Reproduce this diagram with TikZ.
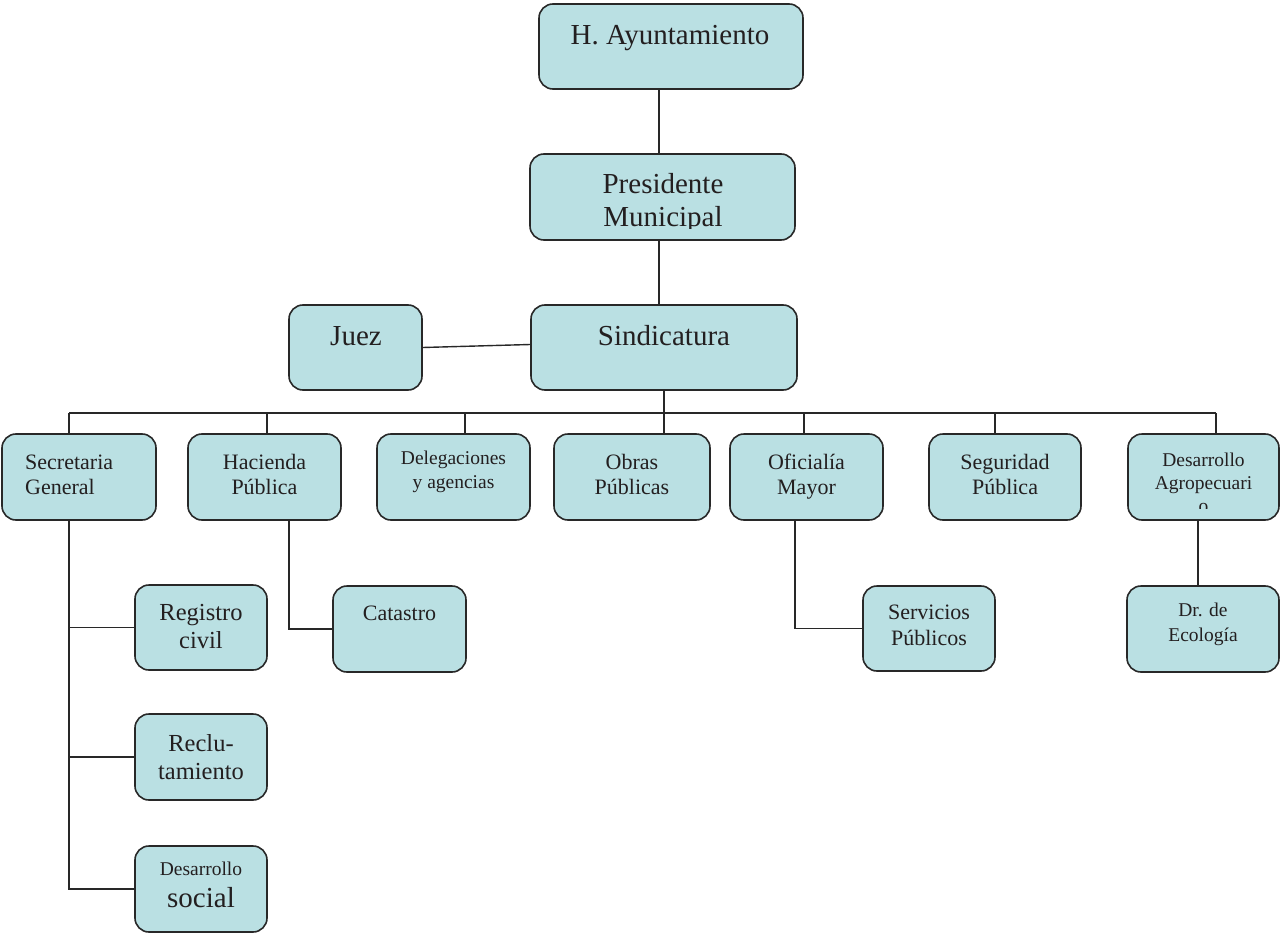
\documentclass[tikz,border=0pt]{standalone}
\usepackage{fontspec}
\setmainfont{Liberation Serif}
\definecolor{boxfill}{RGB}{186,224,227}
\definecolor{linec}{RGB}{40,40,40}
\definecolor{txtc}{RGB}{35,31,32}
\newcommand{\fsz}[1]{\fontsize{#1}{#1}\selectfont}
\begin{document}
\begin{tikzpicture}[x=1pt,y=-1pt,
  box/.style={draw=linec, line width=1.6pt, fill=boxfill, rounded corners=14pt, inner sep=0pt},
  ln/.style={inner sep=0pt, text=txtc, anchor=base},
  lnw/.style={inner sep=0pt, text=txtc, anchor=base west},
  big/.style={font=\fsz{29}},
  mid/.style={font=\fsz{22}},
  reg/.style={font=\fsz{24.5}},
  sml/.style={font=\fsz{19.5}},
  conn/.style={draw=linec, line width=1.4pt}]
\useasboundingbox (0,0) rectangle (1281,933);

% boxes
\node[box, minimum width=264, minimum height=85] (ha) at (671,46.5) {};
\node[box, minimum width=265, minimum height=86] (pres) at (662.5,197) {};
\node[box, minimum width=266, minimum height=85] (sind) at (664,347.5) {};
\node[box, minimum width=133, minimum height=85] (juez) at (355.5,347.5) {};
\node[box, minimum width=154, minimum height=86] (sg) at (79,477) {};
\node[box, minimum width=153, minimum height=86] (hp) at (264.5,477) {};
\node[box, minimum width=153, minimum height=86] (deleg) at (453.5,477) {};
\node[box, minimum width=156, minimum height=86] (obras) at (632,477) {};
\node[box, minimum width=153, minimum height=86] (ofm) at (806.5,477) {};
\node[box, minimum width=152, minimum height=86] (segp) at (1005,477) {};
\node[box, minimum width=151, minimum height=86] (dagro) at (1203.5,477) {};
\node[box, minimum width=132, minimum height=85] (rc) at (201,627.5) {};
\node[box, minimum width=132, minimum height=86] (recl) at (201,757) {};
\node[box, minimum width=132, minimum height=86] (dsoc) at (201,889) {};
\node[box, minimum width=133, minimum height=86] (cat) at (399.5,629) {};
\node[box, minimum width=132, minimum height=85] (serv) at (929,628.5) {};
\node[box, minimum width=152, minimum height=86] (eco) at (1203,629) {};

% texts
\node[ln, big] (ha-t) at (670,45) {H. Ayuntamiento};
\begin{scope}
\clip (530,154) rectangle (795,229);
\node[ln, big] (pres-t1) at (663,194) {Presidente};
\node[ln, big] (pres-t2) at (663,227) {Municipal};
\end{scope}
\node[ln, big] (sind-t) at (664,345) {Sindicatura};
\node[ln, big] (juez-t) at (356,345) {Juez};
\node[lnw, mid] (sg-t1) at (25,469) {Secretaria};
\node[lnw, mid] (sg-t2) at (25,494) {General};
\node[ln, mid] (hp-t1) at (264.5,469) {Hacienda};
\node[ln, mid] (hp-t2) at (264.5,494) {Pública};
\node[ln, sml] (deleg-t1) at (453.5,464.5) {Delegaciones};
\node[ln, sml] (deleg-t2) at (453.5,488.5) {y agencias};
\node[ln, mid] (obras-t1) at (632,469) {Obras};
\node[ln, mid] (obras-t2) at (632,494) {Públicas};
\node[ln, mid] (ofm-t1) at (806.5,469) {Oficialía};
\node[ln, mid] (ofm-t2) at (806.5,494) {Mayor};
\node[ln, mid] (segp-t1) at (1005,469) {Seguridad};
\node[ln, mid] (segp-t2) at (1005,494) {Pública};
\begin{scope}
\clip (1128,434) rectangle (1279,508);
\node[ln, sml] (dagro-t1) at (1203.5,466) {Desarrollo};
\node[ln, sml] (dagro-t2) at (1203.5,489) {Agropecuari};
\node[ln, sml] (dagro-t3) at (1203.5,512) {o};
\end{scope}
\node[ln, reg] (rc-t1) at (201,620) {Registro};
\node[ln, reg] (rc-t2) at (201,648) {civil};
\node[ln, reg] (recl-t1) at (201,751) {Reclu-};
\node[ln, reg] (recl-t2) at (201,779) {tamiento};
\node[ln, sml] (dsoc-t1) at (201,875.5) {Desarrollo};
\node[ln, big] (dsoc-t2) at (201,907.5) {social};
\node[ln, mid] (cat-t) at (399.5,620) {Catastro};
\node[ln, mid] (serv-t1) at (929,619) {Servicios};
\node[ln, mid] (serv-t2) at (929,645) {Públicos};
\node[ln, sml] (eco-t1) at (1203,616) {Dr. de};
\node[ln, sml] (eco-t2) at (1203,641) {Ecología};

% connector guide coordinates
\coordinate (x659) at (659,0);
\coordinate (x664) at (664,0);
\coordinate (busL) at (69,413);
\coordinate (busR) at (1216,413);
\coordinate (x267) at (267,413);
\coordinate (x465) at (465,413);
\coordinate (x804) at (804,413);
\coordinate (x995) at (995,413);
\coordinate (x289) at (289,0);
\coordinate (x795) at (795,0);
\coordinate (x1198) at (1198,0);

% connectors
\draw[conn] (ha.south -| x659) -- (pres.north -| x659);
\draw[conn] (pres.south -| x659) -- (sind.north -| x659);
\draw[conn] (juez.east) -- ([yshift=3pt]sind.west);
\draw[conn] (sind.south -| x664) -- (obras.north -| x664);
\draw[conn] (busL) -- (busR);
\draw[conn] (busL) -- (sg.north -| busL);
\draw[conn] (x267) -- (hp.north -| x267);
\draw[conn] (x465) -- (deleg.north -| x465);
\draw[conn] (x804) -- (ofm.north -| x804);
\draw[conn] (x995) -- (segp.north -| x995);
\draw[conn] (busR) -- (dagro.north -| busR);
\draw[conn] (sg.south -| busL) -- (dsoc.west -| busL) -- (dsoc.west);
\draw[conn] (rc.west -| busL) -- (rc.west);
\draw[conn] (recl.west -| busL) -- (recl.west);
\draw[conn] (hp.south -| x289) -- (cat.west -| x289) -- (cat.west);
\draw[conn] (ofm.south -| x795) -- (serv.west -| x795) -- (serv.west);
\draw[conn] (dagro.south -| x1198) -- (eco.north -| x1198);
\end{tikzpicture}
\end{document}
